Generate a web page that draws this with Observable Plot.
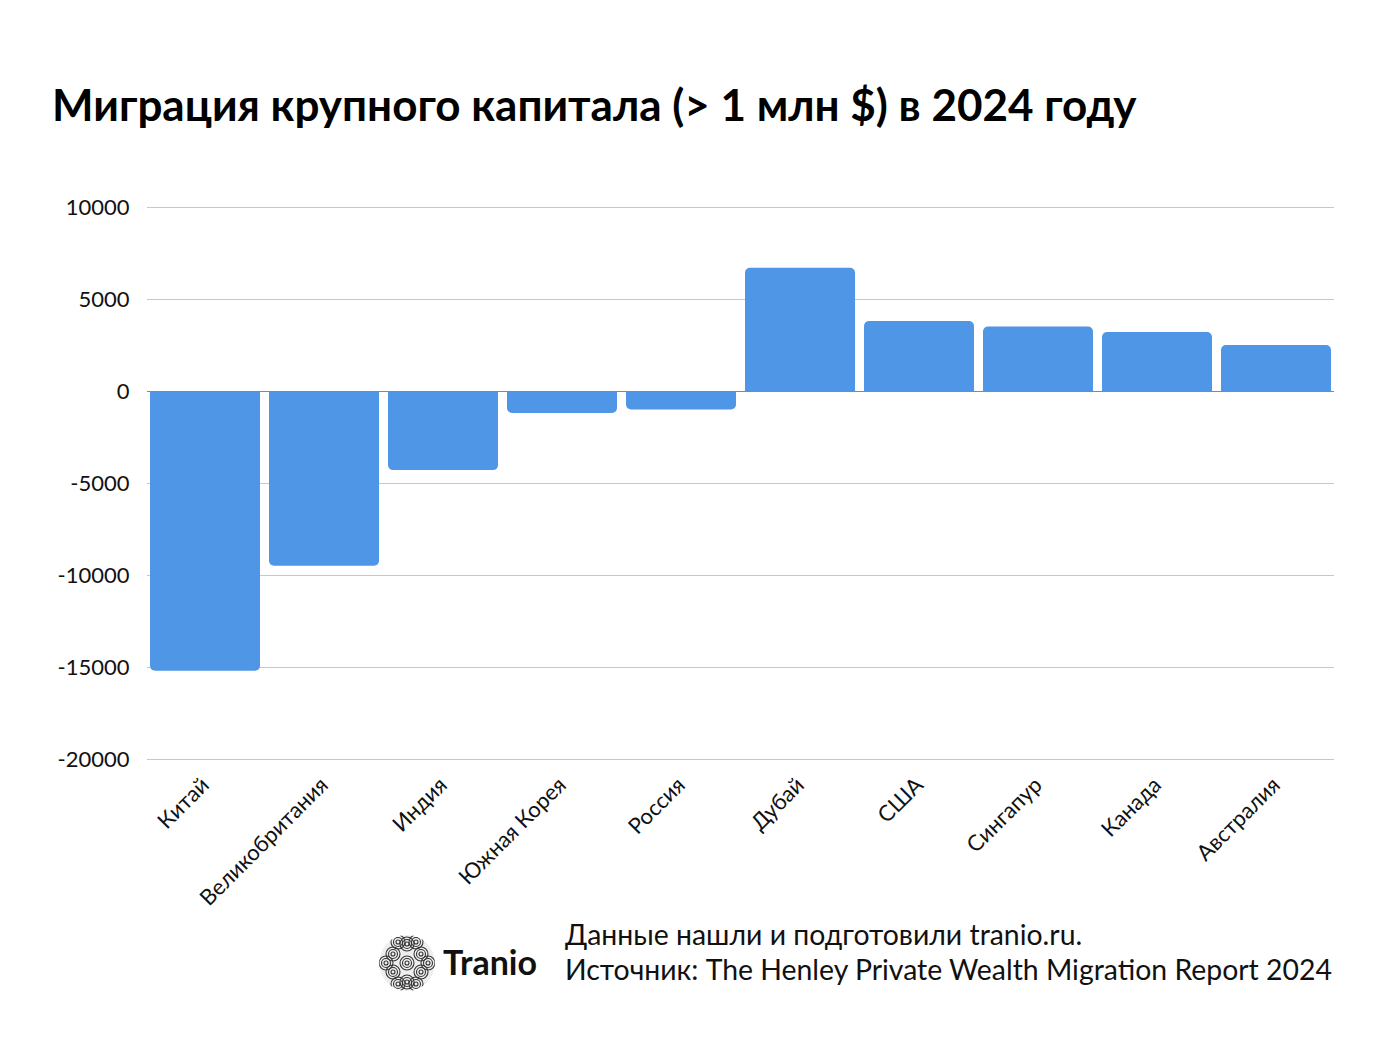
<!DOCTYPE html>
<html>
<head>
<meta charset="utf-8">
<script src="https://cdn.jsdelivr.net/npm/d3@7"></script>
<script src="https://cdn.jsdelivr.net/npm/@observablehq/plot@0.6"></script>
<style>
  html, body { margin: 0; padding: 0; background: #fff; }
  #wrap { position: relative; width: 1386px; height: 1040px; font-family: Lato, "Open Sans", sans-serif; }
  #title { position: absolute; left: 52px; top: 78px; font-size: 44px; font-weight: 700; color: #000; white-space: nowrap; }
  #chart { position: absolute; left: 0; top: 180px; }
  #logo { position: absolute; left: 378px; top: 934px; }
  #brand { position: absolute; left: 443px; top: 941px; font-size: 34px; font-weight: 700; color: #111; }
  #caption { position: absolute; left: 565px; top: 917px; font-size: 28.4px; line-height: 35px; color: #111; white-space: nowrap; }
</style>
</head>
<body>
<div id="wrap">
  <div id="title">Миграция крупного капитала (&gt; 1 млн $) в 2024 году</div>
  <div id="chart"></div>
  <svg id="logo" width="58" height="58" viewBox="0 0 58 58"></svg>
  <div id="brand">Tranio</div>
  <div id="caption">Данные нашли и подготовили tranio.ru.<br>Источник: The Henley Private Wealth Migration Report 2024</div>
</div>
<script>
const countries = ["Китай", "Великобритания", "Индия", "Южная Корея", "Россия", "Дубай", "США", "Сингапур", "Канада", "Австралия"];
const netFlow = [-15200, -9500, -4300, -1200, -1000, 6700, 3800, 3500, 3200, 2500];
const yTicks = [-20000, -15000, -10000, -5000, 0, 5000, 10000];

const data = countries.map((c, i) => ({country: c, value: netFlow[i], half: netFlow[i] / 2}));

const chart = Plot.plot({
  width: 1386,
  height: 740,
  marginLeft: 147,
  marginRight: 52,
  marginTop: 27,
  marginBottom: 161,
  style: {fontFamily: "Lato, 'Open Sans', sans-serif", background: "transparent"},
  x: {domain: countries, paddingInner: 0.075, paddingOuter: 0, label: null},
  y: {domain: [-20000, 10000], ticks: yTicks, label: null},
  marks: [
    Plot.ruleY(yTicks.filter(d => d !== 0), {stroke: "#c8c8c8", strokeWidth: 1}),
    Plot.barY(data, {x: "country", y: "value", fill: "#4F96E6", rx: 5}),
    Plot.barY(data, {x: "country", y: "half", fill: "#4F96E6"}),
    Plot.ruleY([0], {stroke: "#888", strokeWidth: 1.2}),
    Plot.axisY({ticks: yTicks, tickSize: 0, tickPadding: 18, fontSize: 22, fill: "#111", tickFormat: d => String(d), label: null}),
    Plot.axisX({tickSize: 0, tickRotate: -45, fontSize: 22, fill: "#111", tickPadding: 22, label: null})
  ]
});
document.getElementById("chart").appendChild(chart);

// logo: circle with swirl pattern
const logo = d3.select("#logo");
logo.append("circle").attr("cx", 29).attr("cy", 29).attr("r", 28).attr("fill", "#eee");
const centers = [[29,29],[15,20],[43,20],[15,38],[43,38],[29,10],[29,48],[8,29],[50,29],[20,8],[38,8],[20,50],[38,50]];
centers.forEach(([cx, cy]) => {
  [7, 4.5, 2].forEach(r => {
    logo.append("circle").attr("cx", cx).attr("cy", cy).attr("r", r)
      .attr("fill", "none").attr("stroke", "#333").attr("stroke-width", 1.1);
  });
});
logo.append("circle").attr("cx", 29).attr("cy", 29).attr("r", 30).attr("fill", "none").attr("stroke", "#fff").attr("stroke-width", 4);
</script>
</body>
</html>
